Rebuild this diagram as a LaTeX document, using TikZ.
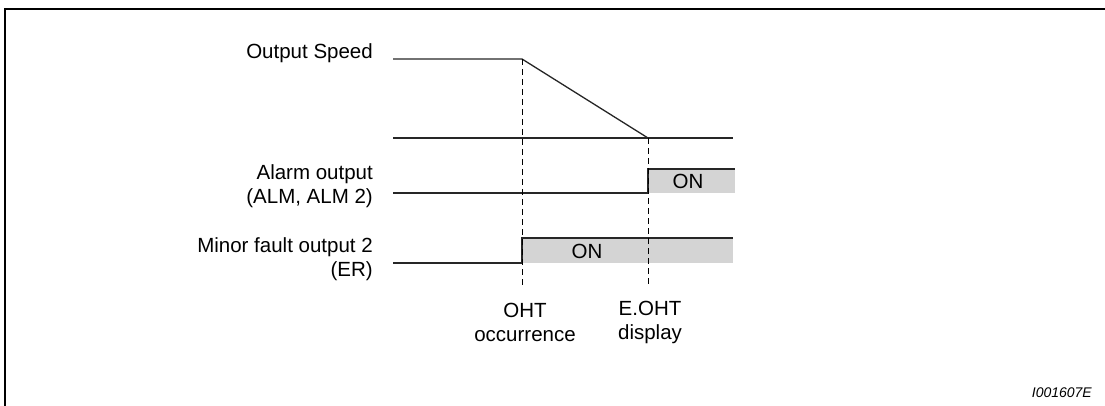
\documentclass[tikz,border=0pt]{standalone}
\usepackage{fontspec}
\setmainfont{Liberation Sans}
\begin{document}
\begin{tikzpicture}[x=1pt,y=-1pt,
  sig/.style={line width=1.3pt,draw=black!85},
  guide/.style={line width=0.9pt,dash pattern=on 6pt off 4pt},
  lbl/.style={font=\fontsize{20.5}{24}\selectfont,inner sep=0pt,align=right},
  onfill/.style={fill=black!17},
  frm/.style={line width=2pt}]
\useasboundingbox (0,0) rectangle (1105,406);
\draw[frm] (5,406) -- (5,9) -- (1105,9);
% coordinates
\coordinate (s0) at (393,59);
\coordinate (s1) at (522,59);
\coordinate (s2) at (648,138);
\coordinate (z0) at (393,138);
\coordinate (z1) at (733,138);
% fills
\fill[onfill] (648,169) rectangle (735,193);
\fill[onfill] (522,238) rectangle (733,263);
% speed
\draw[sig] (s0) -- (s1) -- (s2);
\draw[sig] (z0) -- (z1);
% alarm
\draw[sig] (393,193) -- (648,193) -- (648,169) -- (735,169);
% minor fault
\draw[sig] (393,263) -- (522,263) -- (522,238) -- (733,238);
% dashed guides
\draw[guide] (s1) -- (522,287);
\draw[guide] (s2) -- (648,287);
% labels
\node[lbl,anchor=east] (lsp) at (373,53) {Output Speed};
\node[lbl,anchor=east] (lal) at (373,186) {Alarm output\\(ALM, ALM 2)};
\node[lbl,anchor=east] (lmf) at (373,259.5) {Minor fault output 2\\(ER)};
\node[lbl] (on1) at (688,181) {ON};
\node[lbl] (on2) at (587,251) {ON};
\node[lbl,align=center] (oht) at (525,322) {OHT\\occurrence};
\node[lbl,align=center] (eoht) at (650,322) {E.OHT\\display};
\node[font=\fontsize{14}{16}\selectfont\itshape,inner sep=0pt,anchor=east] (id) at (1092,393) {I001607E};
\end{tikzpicture}
\end{document}
